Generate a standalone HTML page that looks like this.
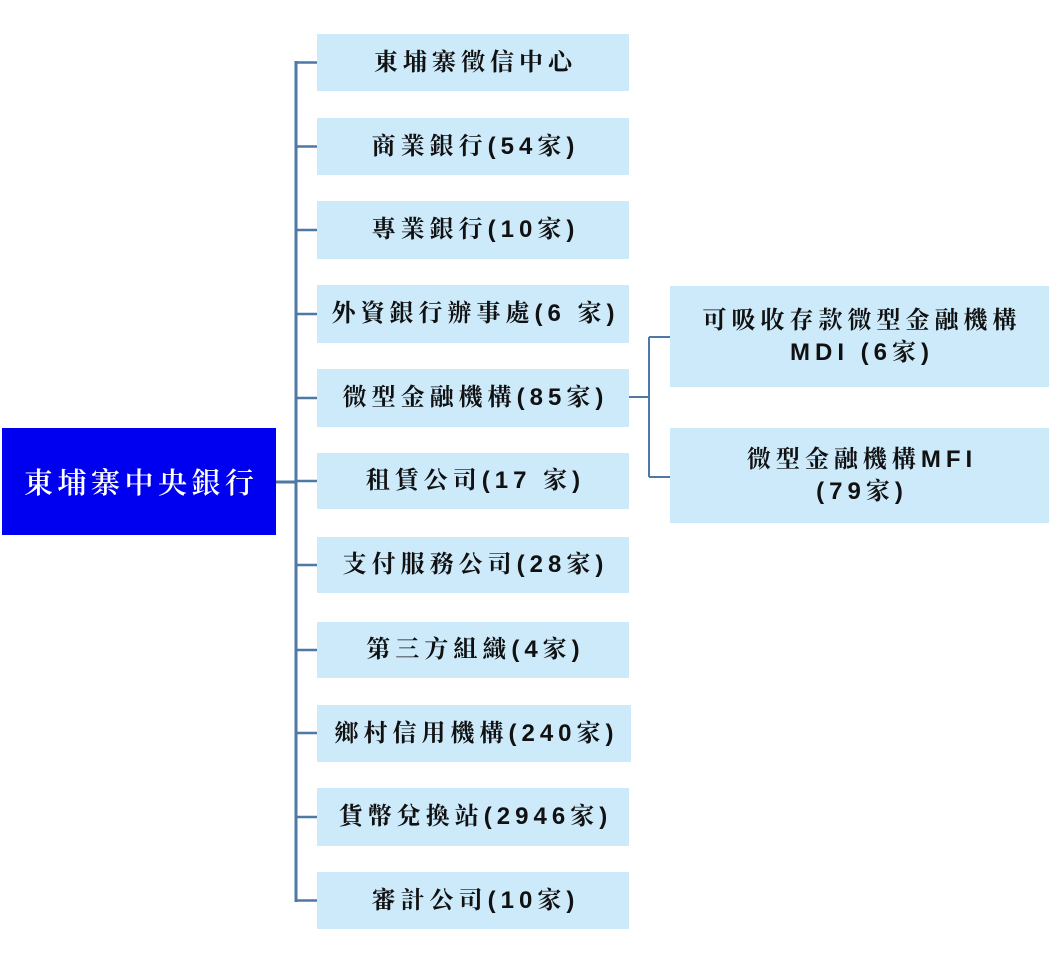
<!DOCTYPE html>
<html><head><meta charset="utf-8">
<style>
html,body{margin:0;padding:0;background:#fff;}
body{width:1051px;height:963px;position:relative;overflow:hidden;}
.b{position:absolute;background:#cdeafb;display:flex;align-items:center;justify-content:center;text-align:center;
font-family:"Liberation Sans","Noto Serif CJK SC","Noto Serif CJK TC",serif;font-weight:700;font-size:24px;letter-spacing:5px;color:#111;line-height:32px;white-space:nowrap;}
.b span{margin-right:-5px;}
.c{position:absolute;left:2px;top:428px;width:274px;height:107px;background:#0000f0;color:#fff;display:flex;align-items:center;justify-content:center;
font-family:"Liberation Sans","Noto Serif CJK SC",serif;font-weight:600;font-size:29px;letter-spacing:4.5px;}
.c span{margin-right:-4.5px;}
svg{position:absolute;left:0;top:0;}
</style></head><body>
<svg width="1051" height="963">
<g stroke="#4e79a6" fill="none">
<line x1="296" y1="61" x2="296" y2="902" stroke-width="3"/>
<line x1="276" y1="482" x2="296" y2="482" stroke-width="3"/>
<line x1="296" y1="62.5" x2="317" y2="62.5" stroke-width="2.5"/>
<line x1="296" y1="146.5" x2="317" y2="146.5" stroke-width="2.5"/>
<line x1="296" y1="230" x2="317" y2="230" stroke-width="2.5"/>
<line x1="296" y1="314" x2="317" y2="314" stroke-width="2.5"/>
<line x1="296" y1="398" x2="317" y2="398" stroke-width="2.5"/>
<line x1="296" y1="481" x2="317" y2="481" stroke-width="2.5"/>
<line x1="296" y1="565" x2="317" y2="565" stroke-width="2.5"/>
<line x1="296" y1="650" x2="317" y2="650" stroke-width="2.5"/>
<line x1="296" y1="733" x2="317" y2="733" stroke-width="2.5"/>
<line x1="296" y1="817" x2="317" y2="817" stroke-width="2.5"/>
<line x1="295" y1="900.5" x2="317" y2="900.5" stroke-width="2.5"/>
<line x1="629" y1="397" x2="649" y2="397" stroke-width="2"/>
<line x1="649" y1="337" x2="649" y2="477" stroke-width="2"/>
<line x1="649" y1="337" x2="670" y2="337" stroke-width="2"/>
<line x1="649" y1="477" x2="670" y2="477" stroke-width="2"/>
</g>
</svg>

<div class="c"><span>東埔寨中央銀行</span></div>

<div class="b" style="left:317px;top:34px;width:312px;height:57px;"><span>東埔寨徵信中心</span></div>
<div class="b" style="left:317px;top:118px;width:312px;height:57px;"><span>商業銀行(54家)</span></div>
<div class="b" style="left:317px;top:201px;width:312px;height:58px;"><span>專業銀行(10家)</span></div>
<div class="b" style="left:317px;top:285px;width:312px;height:58px;"><span>外資銀行辦事處(6 家)</span></div>
<div class="b" style="left:317px;top:369px;width:312px;height:58px;"><span>微型金融機構(85家)</span></div>
<div class="b" style="left:317px;top:453px;width:312px;height:56px;"><span>租賃公司(17 家)</span></div>
<div class="b" style="left:317px;top:537px;width:312px;height:56px;"><span>支付服務公司(28家)</span></div>
<div class="b" style="left:317px;top:622px;width:312px;height:56px;"><span>第三方組織(4家)</span></div>
<div class="b" style="left:317px;top:705px;width:314px;height:57px;"><span>鄉村信用機構(240家)</span></div>
<div class="b" style="left:317px;top:788px;width:312px;height:58px;"><span>貨幣兌換站(2946家)</span></div>
<div class="b" style="left:317px;top:872px;width:312px;height:57px;"><span>審計公司(10家)</span></div>

<div class="b" style="left:670px;top:286px;width:379px;height:101px;"><span>可吸收存款微型金融機構<br>MDI (6家)</span></div>
<div class="b" style="left:670px;top:428px;width:379px;height:95px;"><span>微型金融機構MFI<br>(79家)</span></div>
</body></html>
